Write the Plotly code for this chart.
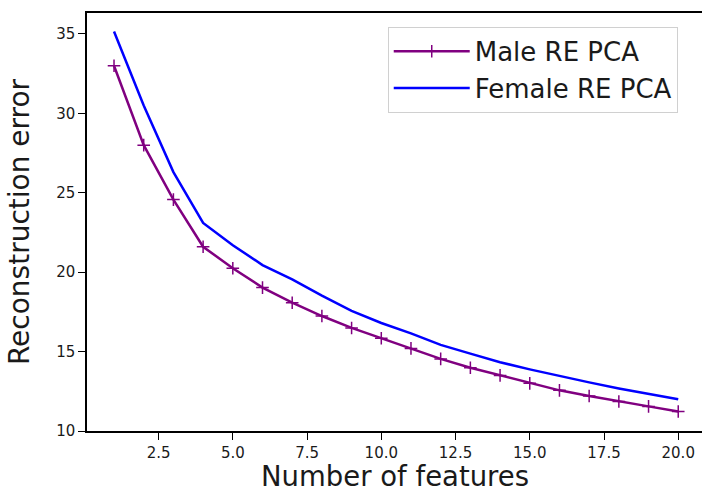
import plotly.graph_objects as go

features = list(range(1, 21))
male_re = [33.0, 28.0, 24.57, 21.6, 20.25, 19.03, 18.08, 17.24, 16.49, 15.84,
           15.2, 14.54, 13.98, 13.5, 13.0, 12.56, 12.2, 11.86, 11.55, 11.23]
female_re = [35.15, 30.5, 26.3, 23.1, 21.7, 20.45, 19.55, 18.52, 17.56, 16.8,
             16.15, 15.42, 14.87, 14.33, 13.88, 13.46, 13.06, 12.68, 12.34, 12.0]

x_ticks = [2.5, 5.0, 7.5, 10.0, 12.5, 15.0, 17.5, 20.0]
y_ticks = [10, 15, 20, 25, 30, 35]

FONT = "DejaVu Sans"

fig = go.Figure()
fig.add_trace(go.Scatter(
    x=features, y=male_re, name="Male RE PCA", mode="lines+markers",
    line=dict(color="#800080", width=2.5),
    marker=dict(symbol="cross-thin", size=9, color="#800080",
                line=dict(color="#800080", width=1.5)),
))
fig.add_trace(go.Scatter(
    x=features, y=female_re, name="Female RE PCA", mode="lines",
    line=dict(color="#0000ff", width=2.5),
))

fig.add_annotation(
    text="Number of features", xref="paper", yref="paper",
    x=0.5, y=0, xanchor="center", yanchor="top", yshift=-28, borderpad=0,
    showarrow=False, font=dict(family=FONT, size=27.5, color="#1a1a1a"),
)

fig.update_layout(
    width=702, height=491,
    margin=dict(l=87, r=0, t=13, b=60),
    paper_bgcolor="white", plot_bgcolor="white",
    font=dict(family=FONT, color="#000000"),
    showlegend=True,
    legend=dict(
        x=0.489, y=0.967, xanchor="left", yanchor="top",
        bgcolor="white", bordercolor="#d0d0d0", borderwidth=1,
        font=dict(family=FONT, size=26, color="#1a1a1a"),
        itemwidth=76, tracegroupgap=0,
    ),
    xaxis=dict(
        range=[0.09, 20.80],
        tickvals=x_ticks, ticktext=[f"{v:.1f}" for v in x_ticks],
        ticks="outside", ticklen=7, tickwidth=1, tickcolor="black",
        showline=True, linecolor="black", linewidth=1.5, mirror=True,
        showgrid=False, zeroline=False, automargin=False,
        tickfont=dict(family=FONT, size=15, color="#1a1a1a"),
    ),
    yaxis=dict(
        range=[10, 36.32],
        tickvals=y_ticks, ticktext=[str(v) for v in y_ticks],
        ticks="outside", ticklen=7, tickwidth=1, tickcolor="black",
        showline=True, linecolor="black", linewidth=1.5, mirror=False,
        showgrid=False, zeroline=False,
        tickfont=dict(family=FONT, size=15, color="#1a1a1a"),
        title=dict(text="Reconstruction error", font=dict(family=FONT, size=28, color="#1a1a1a"), standoff=18),
    ),
)

fig.write_html("out.html")
